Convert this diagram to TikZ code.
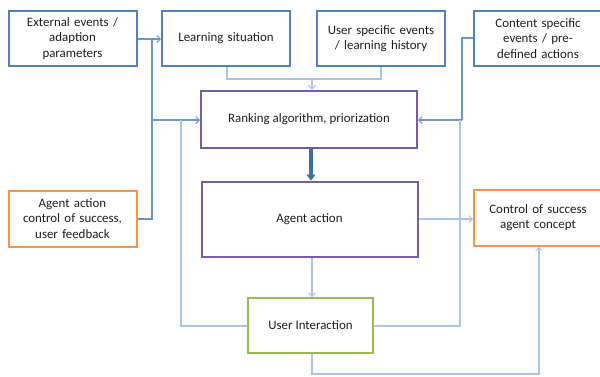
\documentclass[tikz,border=0pt]{standalone}
\usepackage{fontspec}
\setmainfont{Carlito}
\usetikzlibrary{arrows.meta}
\definecolor{boxblue}{HTML}{4F81BD}
\definecolor{boxpurple}{HTML}{7A5BA6}
\definecolor{boxorange}{HTML}{F79646}
\definecolor{boxgreen}{HTML}{9BBB59}
\definecolor{linkdark}{HTML}{6B97CF}
\definecolor{linklight}{HTML}{A9C5E8}
\definecolor{flowblue}{HTML}{3F6DAA}
\definecolor{txt}{HTML}{1E1E1E}
\tikzset{
  card/.style={draw, line width=2pt, fill=white, align=center, text=txt,
    font=\fontsize{12.9}{15.2}\selectfont, inner sep=2pt},
  bluecard/.style={card, draw=boxblue, minimum width=127pt, minimum height=55pt, text width=124pt},
  purplecard/.style={card, draw=boxpurple, minimum width=216pt},
  orangecard/.style={card, draw=boxorange, minimum width=127pt, minimum height=56pt, text width=124pt},
  greencard/.style={card, draw=boxgreen, minimum width=125pt, minimum height=55pt},
  tip/.style={-{Straight Barb[length=3.5pt,width=7pt,line width=0.9pt]}},
  darklink/.style={draw=linkdark, line width=1.1pt},
  lightlink/.style={draw=linklight, line width=1.1pt},
}
\begin{document}
\begin{tikzpicture}[x=1pt,y=-1pt]
\useasboundingbox (0,0) rectangle (600,376);
\clip (0,0) rectangle (600,376);

% top row of inputs
\node[bluecard] (ext) at (72.5,38.5) {External events /\\adaption\\parameters};
\node[bluecard] (learn) at (226,38.5) {Learning situation};
\node[bluecard] (usr) at (381,38.5) {User specific events\\/ learning history};
\node[bluecard] (cont) at (538,38.5) {Content specific\\events / pre-\\defined actions};

% central chain
\node[purplecard, minimum height=57pt] (rank) at (309,119) {Ranking algorithm, priorization};
\node[purplecard, minimum height=75pt] (act) at (309.5,219) {Agent action};
\node[greencard] (ui) at (310.5,325.5) {User Interaction};

% side boxes
\node[orangecard] (fb) at (72.5,218.5) {Agent action\\control of success,\\user feedback};
\node[orangecard] (ctrl) at (538,218) {Control of success\\agent concept};

% junction points
\coordinate (jl) at (152,120);
\coordinate (jm) at (312,79);
\coordinate (jr) at (462,120);

% left feed line
\draw[darklink, tip] (ext.east |- 0,39) -- (learn.west |- 0,39);
\draw[darklink] (152,39) -- (152,219) -- (fb.east |- 0,219);
\draw[darklink, tip] (jl) -- (rank.west |- jl);

% top inputs into the ranking box
\draw[lightlink] (227,67) -- (227,79) -- (jm);
\draw[lightlink] (381,67) -- (381,79) -- (jm);
\draw[lightlink, tip] (jm) -- (rank.north -| jm);

% right feed line
\draw[darklink] (cont.west |- 0,38) -- (462,38) -- (jr);
\draw[darklink, tip] (jr) -- (rank.east |- jr);

% feedback from user interaction
\draw[lightlink] (ui.east |- 0,326) -- (460,326) -- (460,120);
\draw[lightlink] (ui.west |- 0,326) -- (181,326) -- (181,120);

% main flow
\draw[flowblue, line width=4.5pt, -{Triangle[length=6pt,width=9pt]}] (rank.south -| 311,0) -- (act.north -| 311,0);
\draw[lightlink, tip] (act.south -| 312,0) -- (ui.north -| 312,0);
\draw[lightlink, tip] (act.east |- 0,219) -- (ctrl.west |- 0,219);
\draw[lightlink, tip] (ui.south -| 312,0) -- (312,374) -- (539,374) -- (ctrl.south -| 539,0);
\end{tikzpicture}
\end{document}
